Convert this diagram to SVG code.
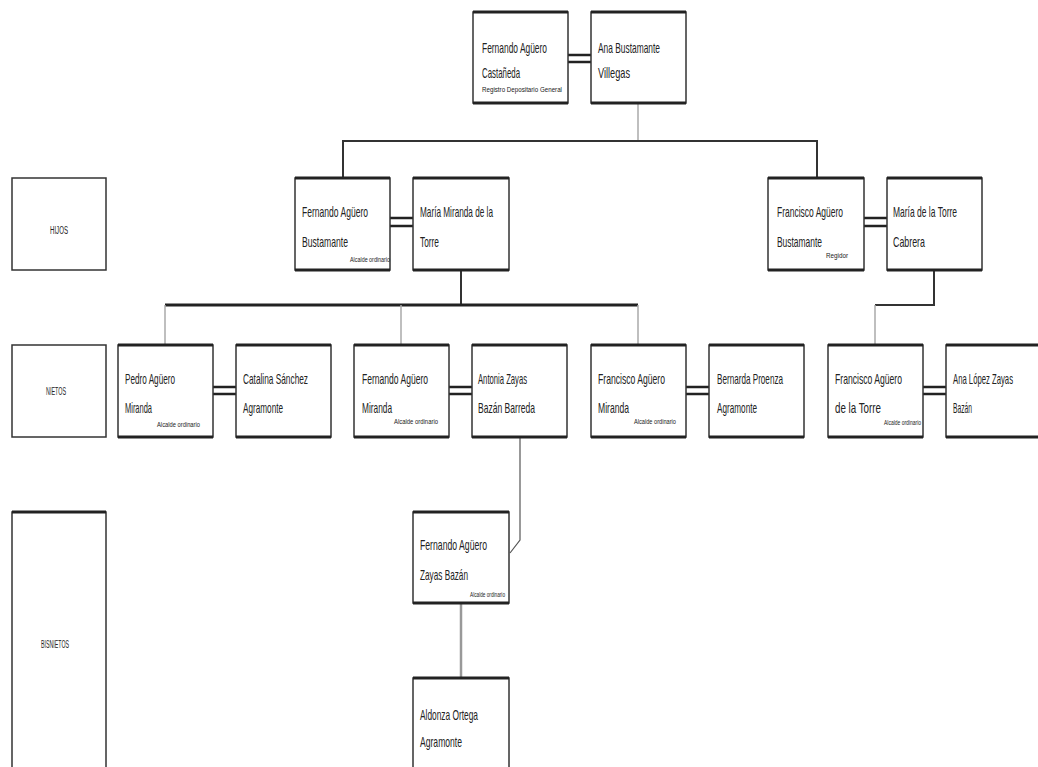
<svg xmlns="http://www.w3.org/2000/svg" width="1038" height="767" viewBox="0 0 1038 767">
<defs>
<style>
.box{fill:#fff;stroke:#333;stroke-width:1.5}
.edge{stroke:#222;stroke-width:3}
.t{font-family:"Liberation Sans",Arial,sans-serif;font-size:15px;fill:#222}
.s{font-family:"Liberation Sans",Arial,sans-serif;font-size:8px;fill:#222}
.lab{font-family:"Liberation Sans",Arial,sans-serif;font-size:10px;fill:#222;text-anchor:middle}
.m{stroke:#222;stroke-width:2.5}
.dk{stroke:#333;stroke-width:2;fill:none}
.thk{stroke:#222;stroke-width:3;fill:none}
.lt{stroke:#aaa;stroke-width:1.5;fill:none}
</style>
</defs>
<rect width="1038" height="767" fill="#fff"/>
<g id="connectors">
<path class="lt" d="M638 103V141"/>
<path class="dk" d="M343 178V141H817V178"/>
<path class="dk" d="M461 270V305"/>
<path class="thk" d="M165 305H638"/>
<path class="lt" d="M165 305V345M401 305V345M638 305V345"/>
<path class="dk" d="M934 270V305H875"/>
<path class="lt" d="M875 305V345"/>
<path d="M520 437V540L510 553" fill="none" stroke="#555" stroke-width="1.2"/>
<path d="M461 603V678" fill="none" stroke="#999" stroke-width="2.5"/>
<path class="m" d="M568 55H591M568 62H591"/>
<path class="m" d="M390 218H413M390 226H413"/>
<path class="m" d="M864 218H887M864 226H887"/>
<path class="m" d="M213 387H236M213 394H236"/>
<path class="m" d="M449 387H472M449 394H472"/>
<path class="m" d="M686 387H709M686 394H709"/>
<path class="m" d="M923 387H946M923 394H946"/>
</g>
<g id="hijos"><rect class="box" x="12" y="178" width="94" height="92"/><text class="lab" x="59" y="234" textLength="18" lengthAdjust="spacingAndGlyphs">HIJOS</text></g>
<g id="nietos"><rect class="box" x="12" y="345" width="94" height="92"/><text class="lab" x="56" y="395" textLength="20" lengthAdjust="spacingAndGlyphs">NIETOS</text></g>
<g id="bisnietos"><rect class="box" x="12" y="512" width="94" height="260"/><path class="edge" d="M12 512H106"/><text class="lab" x="55" y="648" textLength="28" lengthAdjust="spacingAndGlyphs">BISNIETOS</text></g>

<g id="n1"><rect class="box" x="473" y="12" width="95" height="91"/><path class="edge" d="M473 12H568M473 103H568"/>
<text class="t" x="482" y="53" textLength="65" lengthAdjust="spacingAndGlyphs">Fernando Agüero</text>
<text class="t" x="482" y="78" textLength="38" lengthAdjust="spacingAndGlyphs">Castañeda</text>
<text class="s" x="482" y="92" textLength="80" lengthAdjust="spacingAndGlyphs">Registro Depositario General</text></g>
<g id="n2"><rect class="box" x="591" y="12" width="95" height="91"/><path class="edge" d="M591 12H686M591 103H686"/>
<text class="t" x="598" y="53" textLength="62" lengthAdjust="spacingAndGlyphs">Ana Bustamante</text>
<text class="t" x="598" y="78" textLength="32" lengthAdjust="spacingAndGlyphs">Villegas</text></g>

<g id="n3"><rect class="box" x="295" y="178" width="95" height="92"/><path class="edge" d="M295 178H390M295 270H390"/>
<text class="t" x="302" y="217" textLength="66" lengthAdjust="spacingAndGlyphs">Fernando Agüero</text>
<text class="t" x="302" y="247" textLength="46" lengthAdjust="spacingAndGlyphs">Bustamante</text>
<text class="s" x="350" y="262" textLength="40" lengthAdjust="spacingAndGlyphs">Alcalde ordinario</text></g>
<g id="n4"><rect class="box" x="413" y="178" width="96" height="92"/><path class="edge" d="M413 178H509M413 270H509"/>
<text class="t" x="420" y="217" textLength="73" lengthAdjust="spacingAndGlyphs">María Miranda de la</text>
<text class="t" x="420" y="247" textLength="19" lengthAdjust="spacingAndGlyphs">Torre</text></g>
<g id="n5"><rect class="box" x="768" y="178" width="96" height="92"/><path class="edge" d="M768 178H864M768 270H864"/>
<text class="t" x="777" y="247" textLength="45" lengthAdjust="spacingAndGlyphs">Bustamante</text>
<text class="t" x="777" y="217" textLength="66" lengthAdjust="spacingAndGlyphs">Francisco Agüero</text>
<text class="s" x="826" y="258" textLength="22" lengthAdjust="spacingAndGlyphs">Regidor</text></g>
<g id="n6"><rect class="box" x="887" y="178" width="95" height="92"/><path class="edge" d="M887 178H982M887 270H982"/>
<text class="t" x="893" y="217" textLength="64" lengthAdjust="spacingAndGlyphs">María de la Torre</text>
<text class="t" x="893" y="247" textLength="32" lengthAdjust="spacingAndGlyphs">Cabrera</text></g>

<g id="n7"><rect class="box" x="118" y="345" width="95" height="92"/><path class="edge" d="M118 345H213M118 437H213"/>
<text class="t" x="125" y="384" textLength="50" lengthAdjust="spacingAndGlyphs">Pedro Agüero</text>
<text class="t" x="125" y="413" textLength="27" lengthAdjust="spacingAndGlyphs">Miranda</text>
<text class="s" x="157" y="427" textLength="43" lengthAdjust="spacingAndGlyphs">Alcalde ordinario</text></g>
<g id="n8"><rect class="box" x="236" y="345" width="95" height="92"/><path class="edge" d="M236 345H331M236 437H331"/>
<text class="t" x="243" y="384" textLength="65" lengthAdjust="spacingAndGlyphs">Catalina Sánchez</text>
<text class="t" x="243" y="413" textLength="40" lengthAdjust="spacingAndGlyphs">Agramonte</text></g>
<g id="n9"><rect class="box" x="354" y="345" width="95" height="92"/><path class="edge" d="M354 345H449M354 437H449"/>
<text class="t" x="362" y="384" textLength="66" lengthAdjust="spacingAndGlyphs">Fernando Agüero</text>
<text class="t" x="362" y="413" textLength="30" lengthAdjust="spacingAndGlyphs">Miranda</text>
<text class="s" x="394" y="424" textLength="44" lengthAdjust="spacingAndGlyphs">Alcalde ordinario</text></g>
<g id="n10"><rect class="box" x="472" y="345" width="95" height="92"/><path class="edge" d="M472 345H567M472 437H567"/>
<text class="t" x="478" y="384" textLength="49" lengthAdjust="spacingAndGlyphs">Antonia Zayas</text>
<text class="t" x="478" y="413" textLength="57" lengthAdjust="spacingAndGlyphs">Bazán Barreda</text></g>
<g id="n11"><rect class="box" x="591" y="345" width="95" height="92"/><path class="edge" d="M591 345H686M591 437H686"/>
<text class="t" x="598" y="384" textLength="67" lengthAdjust="spacingAndGlyphs">Francisco Agüero</text>
<text class="t" x="598" y="413" textLength="31" lengthAdjust="spacingAndGlyphs">Miranda</text>
<text class="s" x="634" y="424" textLength="42" lengthAdjust="spacingAndGlyphs">Alcalde ordinario</text></g>
<g id="n12"><rect class="box" x="709" y="345" width="95" height="92"/><path class="edge" d="M709 345H804M709 437H804"/>
<text class="t" x="717" y="384" textLength="66" lengthAdjust="spacingAndGlyphs">Bernarda Proenza</text>
<text class="t" x="717" y="413" textLength="40" lengthAdjust="spacingAndGlyphs">Agramonte</text></g>
<g id="n13"><rect class="box" x="828" y="345" width="95" height="92"/><path class="edge" d="M828 345H923M828 437H923"/>
<text class="t" x="835" y="384" textLength="67" lengthAdjust="spacingAndGlyphs">Francisco Agüero</text>
<text class="t" x="835" y="413" textLength="46" lengthAdjust="spacingAndGlyphs">de la Torre</text>
<text class="s" x="884" y="425" textLength="37" lengthAdjust="spacingAndGlyphs">Alcalde ordinario</text></g>
<g id="n14"><rect class="box" x="946" y="345" width="95" height="92"/><path class="edge" d="M946 345H1041M946 437H1041"/>
<text class="t" x="953" y="384" textLength="60" lengthAdjust="spacingAndGlyphs">Ana López Zayas</text>
<text class="t" x="953" y="413" textLength="19" lengthAdjust="spacingAndGlyphs">Bazán</text></g>

<g id="n15"><rect class="box" x="413" y="512" width="96" height="91"/><path class="edge" d="M413 512H509M413 603H509"/>
<text class="t" x="420" y="550" textLength="67" lengthAdjust="spacingAndGlyphs">Fernando Agüero</text>
<text class="t" x="420" y="580" textLength="48" lengthAdjust="spacingAndGlyphs">Zayas Bazán</text>
<text class="s" x="470" y="597" textLength="35" lengthAdjust="spacingAndGlyphs">Alcalde ordinario</text></g>
<g id="n16"><rect class="box" x="413" y="678" width="96" height="95"/><path class="edge" d="M413 678H509"/>
<text class="t" x="420" y="720" textLength="58" lengthAdjust="spacingAndGlyphs">Aldonza Ortega</text>
<text class="t" x="420" y="747" textLength="42" lengthAdjust="spacingAndGlyphs">Agramonte</text></g>
</svg>
